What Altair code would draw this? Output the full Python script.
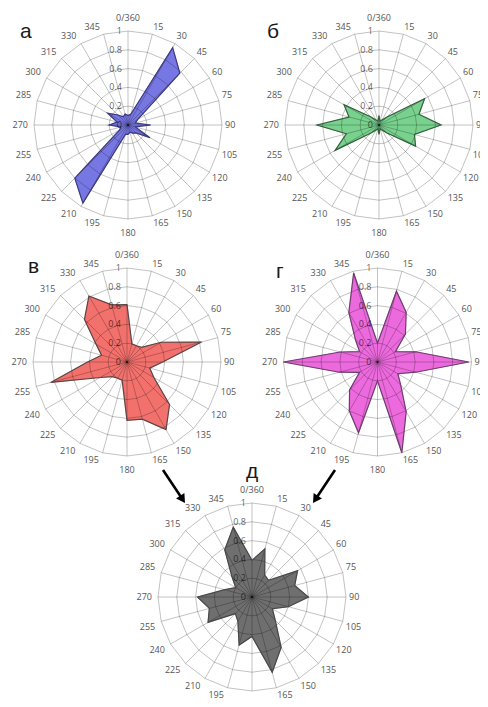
import altair as alt
import pandas as pd

# ---------------- data ----------------
ANGLES = list(range(0, 360, 15))
ANGLE_LABELS = ["0/360"] + [str(a) for a in range(15, 360, 15)]
RING_LEVELS = [0.2, 0.4, 0.6, 0.8, 1.0]
VALUE_TICKS = [0, 0.2, 0.4, 0.6, 0.8, 1]
VALUE_TICK_LABELS = ["0", "0.2", "0.4", "0.6", "0.8", "1"]
PANEL_NAMES = ["а", "б", "в", "г", "д"]

VALUES_A = [0.10, 0.12, 0.95, 0.78, 0.12, 0.08, 0.24, 0.08, 0.27, 0.12, 0.10, 0.08,
            0.10, 0.10, 0.96, 0.80, 0.10, 0.08, 0.20, 0.12, 0.25, 0.15, 0.10, 0.12]
VALUES_B = [0.10, 0.04, 0.06, 0.12, 0.56, 0.44, 0.66, 0.39, 0.45, 0.12, 0.06, 0.04,
            0.10, 0.04, 0.06, 0.12, 0.54, 0.36, 0.66, 0.33, 0.43, 0.12, 0.06, 0.04]
VALUES_V = [0.61, 0.20, 0.20, 0.22, 0.42, 0.82, 0.38, 0.25, 0.33, 0.64, 0.83, 0.63,
            0.62, 0.20, 0.20, 0.22, 0.33, 0.84, 0.42, 0.28, 0.38, 0.64, 0.81, 0.63]
VALUES_G = [0.20, 0.78, 0.61, 0.42, 0.22, 0.42, 0.97, 0.42, 0.25, 0.35, 0.61, 1.00,
            0.20, 0.78, 0.60, 0.42, 0.22, 0.42, 1.00, 0.41, 0.22, 0.33, 0.61, 0.98]
VALUES_D = [0.39, 0.53, 0.27, 0.25, 0.56, 0.47, 0.60, 0.40, 0.25, 0.35, 0.62, 0.83,
            0.42, 0.53, 0.30, 0.25, 0.54, 0.47, 0.58, 0.30, 0.20, 0.30, 0.58, 0.77]
SERIES = dict(zip(PANEL_NAMES, [VALUES_A, VALUES_B, VALUES_V, VALUES_G, VALUES_D]))

# ---------------- layout / style ----------------
R = 94
CENTERS = {"а": (128, 125), "б": (379, 125), "в": (127, 362),
           "г": (377.5, 362), "д": (252, 597)}
LETTER_POS = {"а": (20, 38), "б": (267, 38), "в": (28, 273),
              "г": (276, 278), "д": (246, 478)}
FILLS = {"а": "#7777e4", "б": "#79d18e", "в": "#f3716d", "г": "#ec6ade", "д": "#6f6f6f"}
STROKES = {"а": "#3a3a7d", "б": "#355f3f", "в": "#5a4646", "г": "#6b3f6b", "д": "#474747"}
ARROWS = [((163, 470), (185, 503)), ((335, 470), (313, 503))]

XS = alt.Scale(domain=[8, 480], nice=False, zero=False)
YS = alt.Scale(domain=[8, 699], nice=False, zero=False, reverse=True)


def xy(chart, rexpr):
    return (chart
            .transform_calculate(rad="datum.angle * PI / 180")
            .transform_calculate(px=f"datum.cx + {R} * ({rexpr}) * sin(datum.rad)")
            .transform_calculate(py=f"datum.cy - {R} * ({rexpr}) * cos(datum.rad)"))


X = alt.X("px:Q", scale=XS, axis=None)
Y = alt.Y("py:Q", scale=YS, axis=None)

# series polygons
fill_layers, outline_layers = [], []
for p in PANEL_NAMES:
    cx, cy = CENTERS[p]
    df = pd.DataFrame({"angle": ANGLES, "value": SERIES[p], "cx": cx, "cy": cy})
    base = xy(alt.Chart(df), "datum.value")
    fill_layers.append(base.mark_line(interpolate="linear-closed", fill=FILLS[p],
                                      stroke=FILLS[p], strokeWidth=0.5)
                       .encode(x=X, y=Y, order=alt.Order("angle:Q")))
    outline_layers.append(base.mark_line(interpolate="linear-closed", stroke=STROKES[p],
                                         strokeWidth=1.2)
                          .encode(x=X, y=Y, order=alt.Order("angle:Q")))

# grid rings and spokes
ring_rows, spoke_rows, alab_rows, vlab_rows = [], [], [], []
for p in PANEL_NAMES:
    cx, cy = CENTERS[p]
    for lv in RING_LEVELS:
        for a in ANGLES:
            ring_rows.append({"key": f"{p}{lv}", "angle": a, "level": lv, "cx": cx, "cy": cy})
    for a, lab in zip(ANGLES, ANGLE_LABELS):
        spoke_rows.append({"angle": a, "cx": cx, "cy": cy})
        alab_rows.append({"angle": a, "label": lab, "cx": cx, "cy": cy})
    for v, lab in zip(VALUE_TICKS, VALUE_TICK_LABELS):
        vlab_rows.append({"v": v, "label": lab, "cx": cx, "cy": cy})

GRID_OPACITY = 0.24
rings = (xy(alt.Chart(pd.DataFrame(ring_rows)), "datum.level")
         .mark_line(interpolate="linear-closed", stroke="black", strokeOpacity=GRID_OPACITY,
                    strokeWidth=1)
         .encode(x=X, y=Y, detail="key:N", order=alt.Order("angle:Q")))

spokes = (xy(alt.Chart(pd.DataFrame(spoke_rows)), "1")
          .mark_rule(stroke="black", strokeOpacity=GRID_OPACITY, strokeWidth=1)
          .encode(x=alt.X("cx:Q", scale=XS, axis=None), y=alt.Y("cy:Q", scale=YS, axis=None),
                  x2="px:Q", y2="py:Q"))

# angle labels: box touching an anchor just outside the outer ring (Excel-like)
GAP = 3
angle_labels = (alt.Chart(pd.DataFrame(alab_rows))
                .transform_calculate(rad="datum.angle * PI / 180")
                .transform_calculate(s="sin(datum.rad)", c="cos(datum.rad)",
                                     w="5.2 * length(datum.label)")
                .transform_calculate(sx="datum.s > 0.01 ? 1 : (datum.s < -0.01 ? -1 : 0)",
                                     sy="datum.c > 0.01 ? 1 : (datum.c < -0.01 ? -1 : 0)")
                .transform_calculate(
                    px=f"datum.cx + {R + GAP} * datum.s + datum.sx * datum.w / 2 + (datum.sx < 0 ? -3 : 0)",
                    py=f"datum.cy - {R + GAP} * datum.c - datum.sy * 4.5 - (datum.sx == 0 ? datum.sy * 6 : 0)")
                .mark_text(font="Open Sans", fontSize=9, color="#555555", align="center",
                           baseline="middle")
                .encode(x=X, y=Y, text="label:N"))

value_labels = (alt.Chart(pd.DataFrame(vlab_rows))
                .transform_calculate(px="datum.cx - 6")
                .transform_calculate(py=f"datum.cy - {R} * datum.v")
                .mark_text(font="Open Sans", fontSize=9, color="black", opacity=0.62,
                           align="right", baseline="middle")
                .encode(x=X, y=Y, text="label:N"))

letters_df = pd.DataFrame({"label": PANEL_NAMES,
                           "px": [LETTER_POS[p][0] for p in PANEL_NAMES],
                           "py": [LETTER_POS[p][1] for p in PANEL_NAMES]})
letters = (alt.Chart(letters_df)
           .mark_text(font="Liberation Sans", fontSize=21, color="#1a1a1a", align="left",
                      baseline="alphabetic")
           .encode(x=X, y=Y, text="label:N"))

arrow_df = pd.DataFrame({"x0": [a[0][0] for a in ARROWS], "y0": [a[0][1] for a in ARROWS],
                         "x1": [a[1][0] for a in ARROWS], "y1": [a[1][1] for a in ARROWS]})
arrow_base = (alt.Chart(arrow_df)
              .transform_calculate(len_="sqrt(pow(datum.x1 - datum.x0, 2) + pow(datum.y1 - datum.y0, 2))")
              .transform_calculate(ux="(datum.x1 - datum.x0) / datum.len_",
                                   uy="(datum.y1 - datum.y0) / datum.len_")
              .transform_calculate(sx="datum.x1 - 6 * datum.ux", sy="datum.y1 - 6 * datum.uy",
                                   hx="datum.x1 - 4.3 * datum.ux", hy="datum.y1 - 4.3 * datum.uy",
                                   rot="(atan2(datum.ux, -datum.uy) * 180 / PI + 360) % 360"))
arrow_shafts = arrow_base.mark_rule(stroke="black", strokeWidth=2.6).encode(
    x=alt.X("x0:Q", scale=XS, axis=None), y=alt.Y("y0:Q", scale=YS, axis=None),
    x2="sx:Q", y2="sy:Q")
arrow_heads = arrow_base.mark_point(shape="triangle-up", filled=True, size=100, color="black",
                                    opacity=1).encode(
    x=alt.X("hx:Q", scale=XS, axis=None), y=alt.Y("hy:Q", scale=YS, axis=None),
    angle=alt.Angle("rot:Q", scale=None))

chart = alt.layer(
    *fill_layers, rings, spokes, *outline_layers, value_labels, angle_labels, letters,
    arrow_shafts, arrow_heads
).properties(
    width=472, height=691, autosize=alt.AutoSizeParams(type="none"), padding=0,
    background="white"
).configure_view(stroke=None)

chart.save("out.html", embed_options={"renderer": "svg", "actions": False})
